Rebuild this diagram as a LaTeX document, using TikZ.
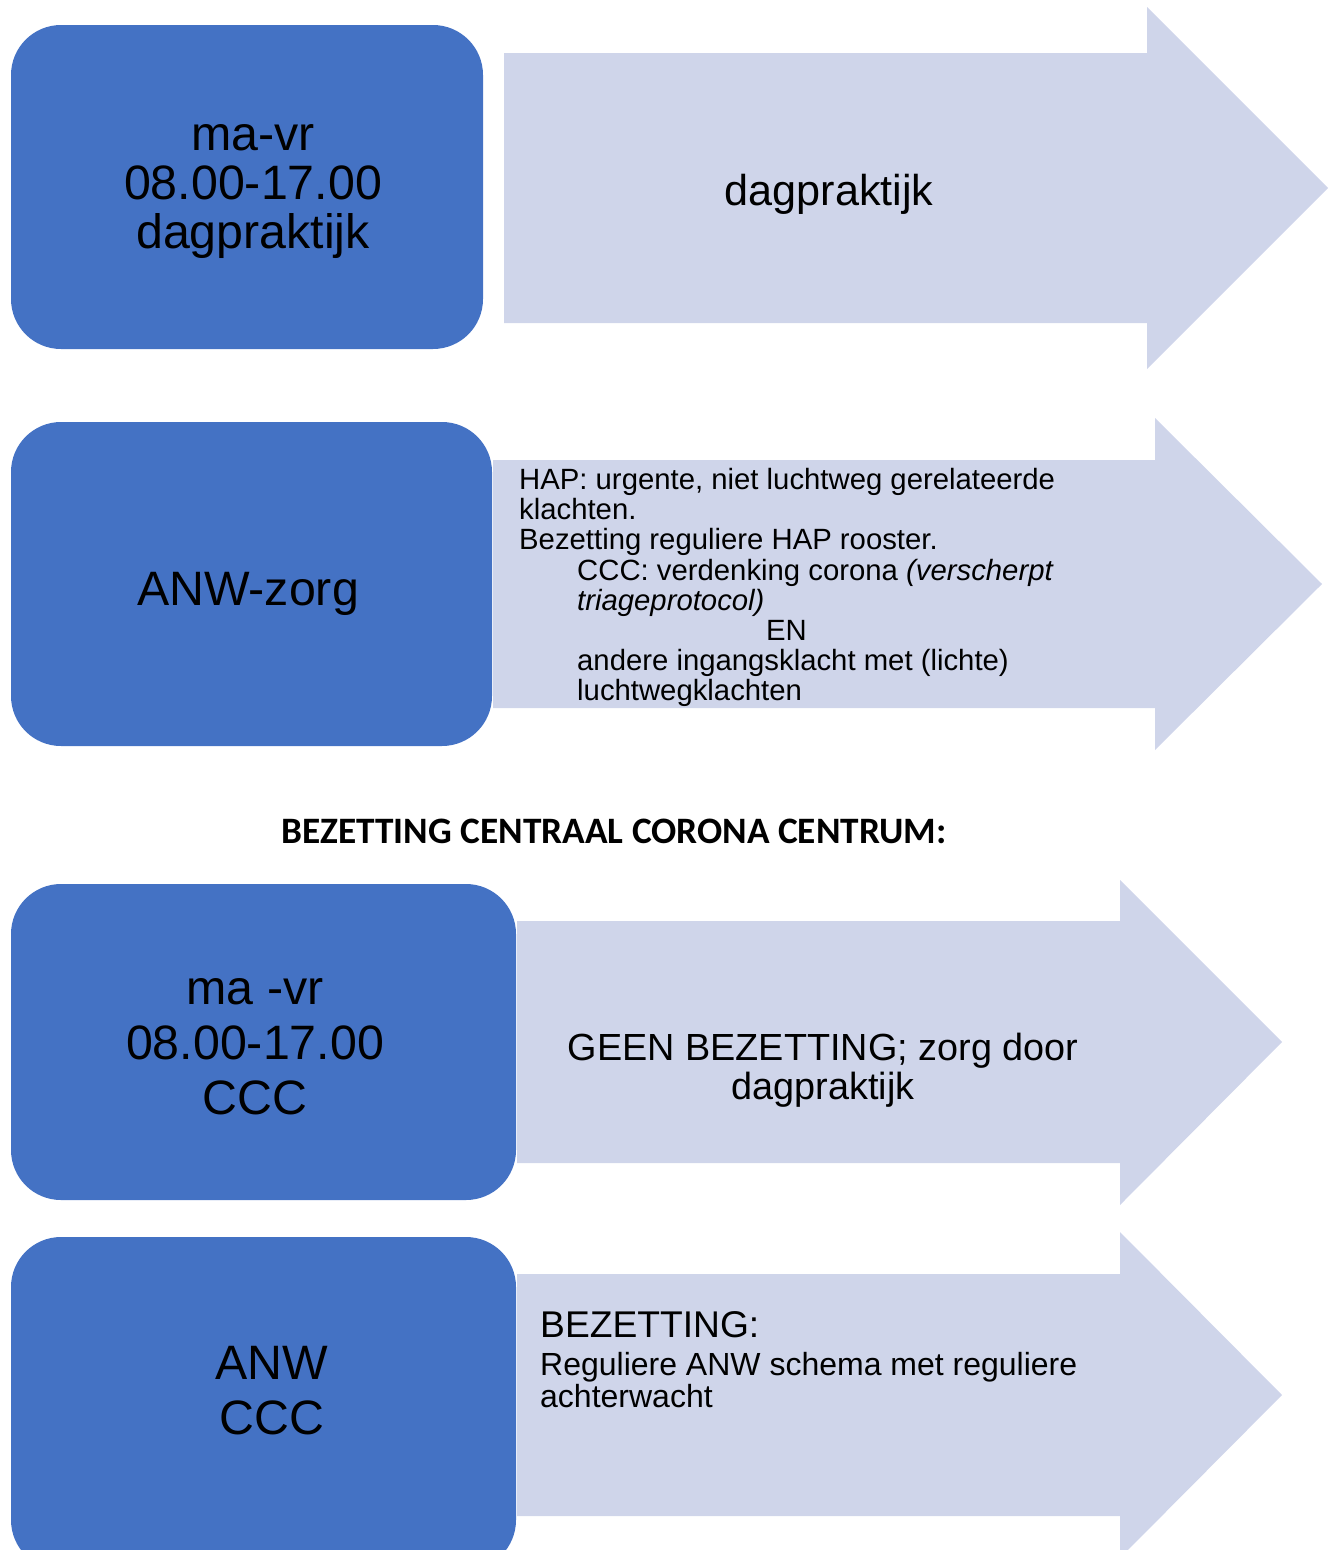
\documentclass[tikz,border=0pt]{standalone}
\usepackage{fontspec}
\setmainfont{Liberation Sans}
\newfontfamily\titlefont{Carlito}
\definecolor{boxblue}{RGB}{68,114,196}
\definecolor{arrowfill}{RGB}{207,213,234}
\begin{document}
\begin{tikzpicture}[x=1pt, y=-1pt,
	box/.style={fill=boxblue, rounded corners=50pt},
	pijl/.style={fill=arrowfill},
	boxtext/.style={align=center, inner sep=0pt, font=\fontsize{48.3}{#1}\selectfont},
	pijltext/.style={inner sep=0pt}]
	\clip (0,0) rectangle (1335,1550);
	
	% pijlen
	\fill[pijl] (504,53) -- (1147,53) -- (1147,7) -- (1328,188) -- (1147,369) -- (1147,323) -- (504,323) -- cycle;
	\fill[pijl] (493,460) -- (1155,460) -- (1155,418) -- (1322,584) -- (1155,750) -- (1155,708) -- (493,708) -- cycle;
	\fill[pijl] (517,921) -- (1120,921) -- (1120,880) -- (1282,1042) -- (1120,1205) -- (1120,1163) -- (517,1163) -- cycle;
	\fill[pijl] (517,1274) -- (1120,1274) -- (1120,1232) -- (1282,1395) -- (1120,1558) -- (1120,1516) -- (517,1516) -- cycle;
	
	% blokken
	\fill[box] (11,25) rectangle (483,349);
	\fill[box] (11,422) rectangle (492,746);
	\fill[box] (11,884) rectangle (516,1200);
	\fill[box] (11,1237) rectangle (516,1570);
	
	\node[boxtext=49] (dagblok) at (253,192) {ma-vr\\08.00-17.00\\dagpraktijk};
	\node[boxtext=49] (anwblok) at (248,594) {ANW-zorg};
	\node[boxtext=55] (cccdag) at (255,1046.5) {ma -vr\\08.00-17.00\\CCC};
	\node[boxtext=55] (cccanw) at (272,1390.5) {ANW\\CCC};
	
	\node[pijltext, font=\fontsize{43.2}{48}\selectfont] (dagpijl) at (829,194) {dagpraktijk};
	
	\node[pijltext, anchor=north west, align=left,
		font=\fontsize{29.3}{30.2}\selectfont] (hap) at (519,468) {%
		HAP: urgente, niet luchtweg gerelateerde\\
		klachten.\\
		Bezetting reguliere HAP rooster.\\
		\hspace*{58pt}CCC: verdenking corona \textit{(verscherpt}\\
		\hspace*{58pt}\textit{triageprotocol)}\\
		\hspace*{247pt}EN\\
		\hspace*{58pt}andere ingangsklacht met (lichte)\\
		\hspace*{58pt}luchtwegklachten};
	
	\node[font=\titlefont\bfseries\fontsize{37.3}{40}\selectfont] (kop) at (614,831) {BEZETTING CENTRAAL CORONA CENTRUM:};
	
	\node[pijltext, align=center, font=\fontsize{37.8}{39}\selectfont] (geen) at (823,1070) {GEEN BEZETTING; zorg door\\dagpraktijk};
	
	\node[pijltext, anchor=base west, font=\fontsize{37.2}{40}\selectfont] (bez) at (540,1337) {BEZETTING:};
	\node[pijltext, anchor=north west, align=left, font=\fontsize{32}{32.5}\selectfont] (regul) at (540,1352) {Reguliere ANW schema met reguliere\\achterwacht};
\end{tikzpicture}
\end{document}
